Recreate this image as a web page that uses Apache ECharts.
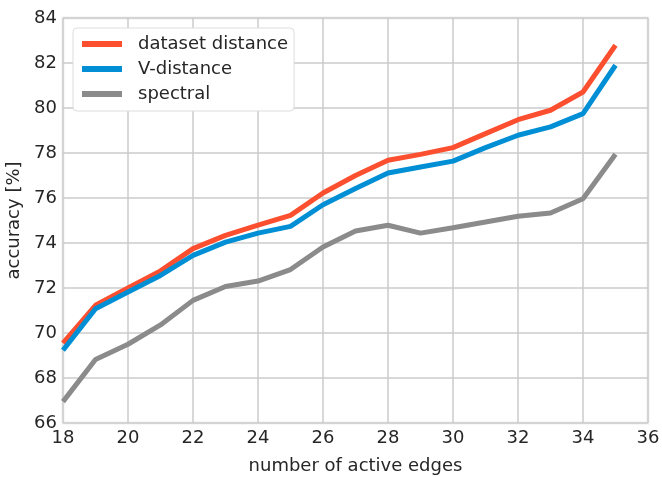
<!DOCTYPE html>
<html>
<head>
<meta charset="utf-8">
<script src="https://cdn.jsdelivr.net/npm/echarts@6/dist/echarts.min.js"></script>
<style>
  html, body { margin: 0; padding: 0; background: #fff; }
  #chart { width: 662px; height: 477px; }
</style>
</head>
<body>
<div id="chart"></div>
<script>
const edges = [18, 19, 20, 21, 22, 23, 24, 25, 26, 27, 28, 29, 30, 31, 32, 33, 34, 35];
const datasetDistance = [69.55, 71.23, 72.0, 72.76, 73.75, 74.34, 74.79, 75.23, 76.22, 77.0, 77.68, 77.94, 78.24, 78.86, 79.48, 79.9, 80.71, 82.79];
const vDistance = [69.23, 71.08, 71.82, 72.56, 73.45, 74.04, 74.44, 74.74, 75.7, 76.42, 77.11, 77.38, 77.64, 78.24, 78.79, 79.16, 79.75, 81.9];
const spectral = [66.95, 68.82, 69.5, 70.36, 71.45, 72.07, 72.31, 72.82, 73.82, 74.53, 74.79, 74.44, 74.68, 74.93, 75.19, 75.33, 75.97, 77.94];

const seriesNames = ["dataset distance", "V-distance", "spectral"];
const seriesColors = ["#fc4f30", "#008fd5", "#8b8b8b"];
const seriesValues = [datasetDistance, vDistance, spectral];

const font = "DejaVu Sans";
const chart = echarts.init(document.getElementById("chart"), null, { renderer: "canvas" });

chart.setOption({
    animation: false,
    textStyle: { fontFamily: font },
    grid: {
        left: 63, right: 14, top: 18, bottom: 54,
        outerBoundsMode: "none",
        containLabel: false,
        show: true, borderColor: "#f0f0f0", borderWidth: 3, backgroundColor: "#fff",
    },
    legend: {
        left: 73, top: 28,
        orient: "vertical",
        itemWidth: 40, itemHeight: 6, itemGap: 7,
        icon: "rect",
        padding: [7, 6, 8, 9],
        backgroundColor: "#fff",
        borderColor: "#dddddd", borderWidth: 1, borderRadius: 4,
        textStyle: { fontFamily: font, fontSize: 18, lineHeight: 17, color: "#262626", padding: [0, 0, 0, 11] },
        data: seriesNames,
    },
    xAxis: {
        type: "value",
        min: 18, max: 36, interval: 2,
        name: "number of active edges",
        nameLocation: "middle", nameGap: 34,
        nameTextStyle: { fontFamily: font, fontSize: 18, color: "#262626" },
        axisLine: { show: false },
        axisTick: { show: false },
        axisLabel: { fontFamily: font, fontSize: 18, color: "#262626", margin: 6 },
        splitLine: { show: true, lineStyle: { color: "#cbcbcb", width: 1.5 } },
    },
    yAxis: {
        type: "value",
        min: 66, max: 84, interval: 2,
        name: "accuracy [%]",
        nameLocation: "middle", nameGap: 35,
        nameTextStyle: { fontFamily: font, fontSize: 18, color: "#262626" },
        axisLine: { show: false },
        axisTick: { show: false },
        axisLabel: { fontFamily: font, fontSize: 18, color: "#262626", margin: 6 },
        splitLine: { show: true, lineStyle: { color: "#cbcbcb", width: 1.5 } },
    },
    series: seriesNames.map((name, i) => ({
        name,
        type: "line",
        data: edges.map((x, j) => [x, seriesValues[i][j]]),
        showSymbol: false,
        symbol: "none",
        lineStyle: { width: 5, color: seriesColors[i], cap: "butt" },
        itemStyle: { color: seriesColors[i] },
    })),
});
</script>
</body>
</html>
